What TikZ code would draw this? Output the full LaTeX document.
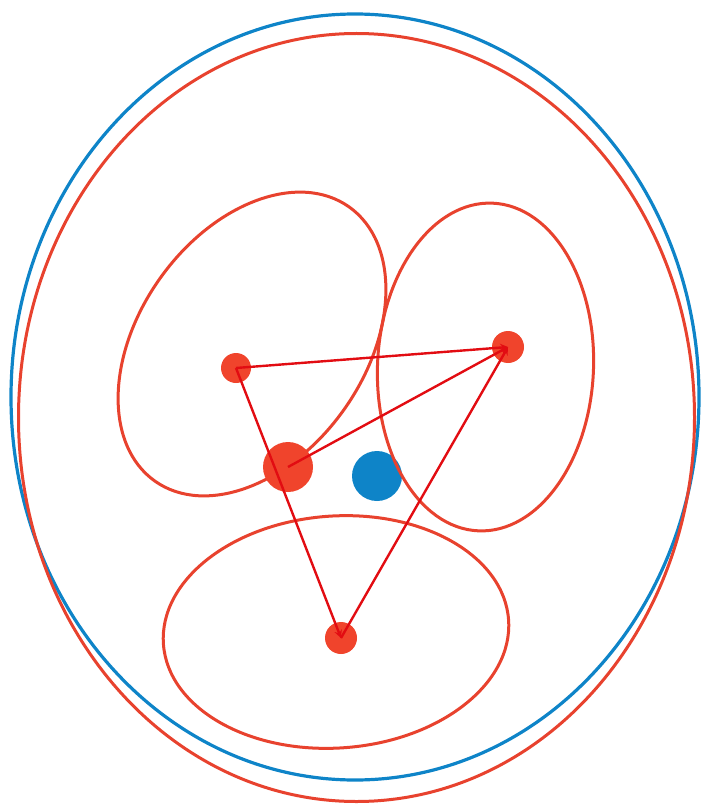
\documentclass[tikz,border=0pt]{standalone}
\definecolor{ringblue}{RGB}{14,132,200}
\definecolor{ringred}{RGB}{232,66,46}
\definecolor{dotred}{RGB}{240,68,44}
\definecolor{edgered}{RGB}{226,12,18}
\begin{document}
\begin{tikzpicture}[x=1pt, y=-1pt, >=stealth]
  \useasboundingbox (0,0) rectangle (701,805);
  % 中心の点
  \coordinate (A) at (236,368);
  \coordinate (B) at (508,347);
  \coordinate (C) at (288,467);
  \coordinate (D) at (341,638);
  \coordinate (E) at (377,476);
  % 外側の楕円 (青と赤)
  \draw[ringblue, line width=3.2pt] (355,397) ellipse [x radius=344, y radius=383];
  \draw[ringred, line width=3pt] (356.5,417.5) ellipse [x radius=338, y radius=384];
  \fill[ringblue] (E) circle (25);
  % 内側の楕円
  \draw[ringred, line width=3pt, rotate around={54.7:(252,344)}] (252,344) ellipse [x radius=168, y radius=113];
  \draw[ringred, line width=3pt, rotate around={-2.5:(485.5,367)}] (485.5,367) ellipse [x radius=108, y radius=164];
  \draw[ringred, line width=3pt, rotate around={4:(336,632)}] (336,632) ellipse [x radius=173, y radius=116];
  \fill[dotred] (A) circle (15);
  \fill[dotred] (B) circle (16);
  \fill[dotred] (C) circle (25);
  \fill[dotred] (D) circle (16);
  % 三角形
  \draw[edgered, line width=2.4pt, ->] (A) -- (B);
  \draw[edgered, line width=2.4pt, ->] (C) -- (B);
  \draw[edgered, line width=2.4pt, ->] (A) -- (D);
  \draw[edgered, line width=2.4pt, ->] (D) -- (B);
\end{tikzpicture}
\end{document}
